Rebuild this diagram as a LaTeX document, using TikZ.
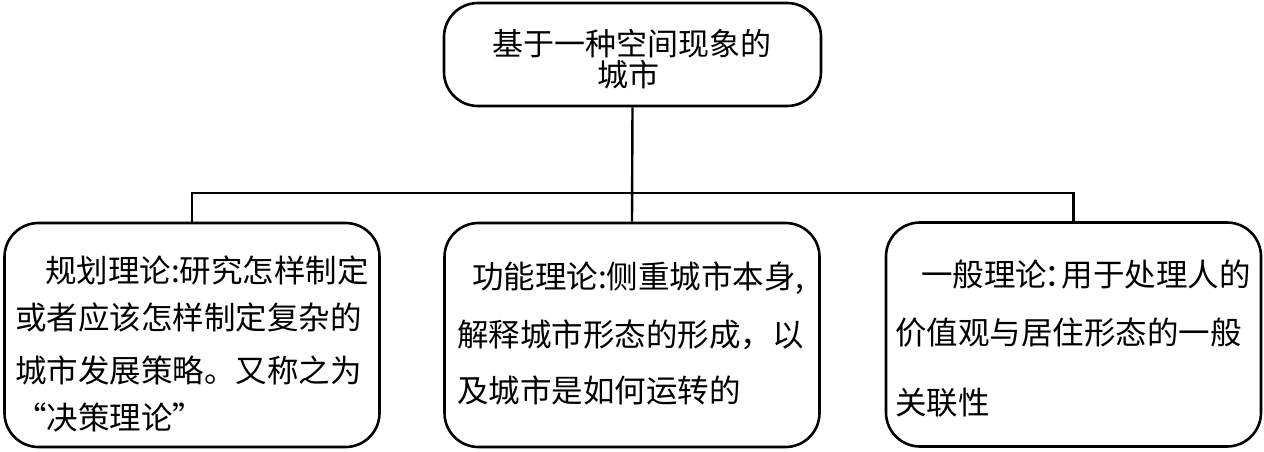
\documentclass[tikz,border=0pt]{standalone}
\usepackage{fontspec}
\newfontfamily\cjk{Noto Sans CJK SC}
\begin{document}
\begin{tikzpicture}[x=1pt,y=-1pt,
  box/.style={draw=black,line width=2.6pt,rounded corners=34pt,inner sep=0pt},
  txt/.style={font=\cjk\fontsize{31.5}{31.5}\selectfont,inner sep=0pt,anchor=west},
  ctxt/.style={font=\cjk\fontsize{31}{31}\selectfont,inner sep=0pt},
  link/.style={draw=black,line width=2.4pt}]
\useasboundingbox (0,0) rectangle (1264,451);
% boxes
\node[box,minimum width=377pt,minimum height=103pt] (top) at (632.5,54.5) {};
\node[box,minimum width=375pt,minimum height=224pt] (left) at (192,335) {};
\node[box,minimum width=375pt,minimum height=224pt] (mid) at (632,335) {};
\node[box,minimum width=375pt,minimum height=224pt] (right) at (1073.5,334.5) {};
% connectors
\coordinate (j) at (632,193);
\draw[link] (top.south) -- (mid.north);
\draw[link] (left.north) -- (left.north |- j) -- (right.north |- j) -- (right.north);
% top text
\node[ctxt] (t1) at (632,44) {基于一种空间现象的};
\node[ctxt] (t2) at (628,75) {城市};
% left text
\node[txt] (l1) at (45,270) {规划理论:研究怎样制定};
\node[txt] (l2) at (15,318) {或者应该怎样制定复杂的};
\node[txt] (l3) at (15,370) {城市发展策略。又称之为};
\node[txt] (l4) at (15,417) {“决策理论”};
% middle text
\node[txt] (m1) at (472,278) {功能理论:侧重城市本身,};
\node[txt] (m2) at (457,335) {解释城市形态的形成，以};
\node[txt] (m3) at (457,390) {及城市是如何运转的};
% right text
\node[txt] (r1) at (921,275) {一般理论\kern-3pt：\kern-14pt用于处理人的};
\node[txt] (r2) at (895,333) {价值观与居住形态的一般};
\node[txt] (r3) at (895,403) {关联性};
\end{tikzpicture}
\end{document}
